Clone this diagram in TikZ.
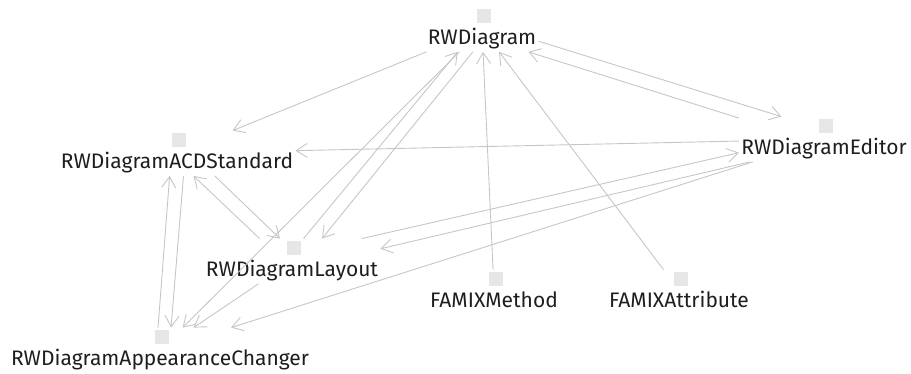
\documentclass[tikz,border=0pt]{standalone}
\usepackage{fontspec}
\setmainfont{Fira Sans}
\usetikzlibrary{arrows.meta,fit}
\definecolor{edgegray}{RGB}{198,198,198}
\definecolor{boxgray}{RGB}{230,230,230}
\definecolor{labelink}{RGB}{30,30,30}
\tikzset{
  marker/.style={fill=boxgray, minimum size=14pt, inner sep=0pt},
  caption/.style={inner sep=0pt, anchor=base, text=labelink,
    font=\fontsize{21}{21}\selectfont},
  entitybox/.style={inner sep=2pt},
  link/.style={draw=edgegray, line width=0.9pt,
    -{Straight Barb[length=11pt,width=14pt]}},
}
% an entity: grey marker square with its name underneath, wrapped in one box
\newcommand\umlentity[4]{%
  \node[marker] (#1-sq) at (#2,#3) {};
  \node[caption] (#1-tx) at (#2-2,#3+29) {#4};
  \node[entitybox, fit=(#1-sq)(#1-tx)] (#1) {};
}
\begin{document}
\begin{tikzpicture}[x=1pt, y=-1pt]
  \useasboundingbox (0,0) rectangle (911,374);

  \umlentity{rwd}{484}{16}{RWDiagram}
  \umlentity{acd}{179}{140}{RWDiagramACDStandard}
  \umlentity{ed}{826}{126}{RWDiagramEditor}
  \umlentity{lay}{294}{248}{RWDiagramLayout}
  \umlentity{app}{162}{337}{RWDiagramAppearanceChanger}
  \umlentity{meth}{496}{279}{FAMIXMethod}
  \umlentity{attr}{681}{279}{FAMIXAttribute}

  % single dependencies
  \draw[link] (rwd) -- (acd);
  \draw[link] (ed) -- (acd);
  \draw[link] (meth) -- (rwd);
  \draw[link] (attr) -- (rwd);
  \draw[link] (ed) -- (app);
  \draw[link] (lay) -- (app);
  \draw[link] (rwd) -- (app);

  % mutual dependencies, drawn as parallel pairs between border anchors
  \draw[link] (rwd.-12) -- (ed.152.7);
  \draw[link] (ed.166.8) -- (rwd.-26.4);
  \draw[link] (lay.63.1) -- (rwd.-137.1);
  \draw[link] (rwd.-112) -- (lay.37.8);
  \draw[link] (lay.145.9) -- (acd.-54.8);
  \draw[link] (acd.-31.3) -- (lay.118.9);
  \draw[link] (app.95) -- (acd.-108.2);
  \draw[link] (acd.-74.3) -- (app.64.1);
  \draw[link] (ed.-163) -- (lay.8.6);
  \draw[link] (lay.18.5) -- (ed.-171.5);
\end{tikzpicture}
\end{document}
